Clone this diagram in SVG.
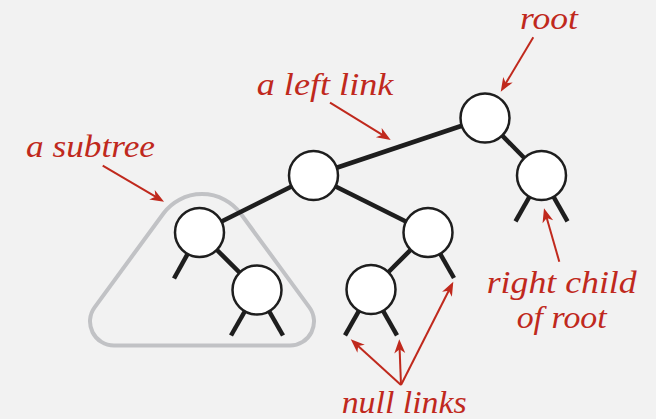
<svg xmlns="http://www.w3.org/2000/svg" width="656" height="419" viewBox="0 0 656 419">
<style>
.bg{fill:#f2f2f2}
.edge{stroke:#1e1e1e;stroke-width:4.5;fill:none}
.node{fill:#ffffff;stroke:#1e1e1e;stroke-width:2.5}
.sub{fill:none;stroke:#c1c2c5;stroke-width:4}
.arr{stroke:#c0291d;stroke-width:2;fill:none;marker-end:url(#ah)}
.lbl{font-family:"Liberation Serif","Times New Roman",serif;font-style:italic;font-size:32px;fill:#c0291d}
</style>
<defs>
<marker id="ah" markerUnits="userSpaceOnUse" markerWidth="20" markerHeight="16" viewBox="-16 -8 20 16" refX="-4" refY="0" orient="auto">
<path d="M0,0 L-14,-5.5 L-10,0 L-14,5.5 Z" fill="#c0291d"/>
</marker>
</defs>
<rect class="bg" x="0" y="0" width="656" height="419"/>
<g id="subtree-outline">
<path class="sub" d="M114,345.5 L290,345.5 A24,24 0 0 0 309.2,307.1 L240.4,213.2 A48,48 0 0 0 163.6,213.2 L94.8,307.1 A24,24 0 0 0 114,345.5 Z"/>
</g>
<g id="connectors">
<line class="edge" x1="485" y1="118" x2="313.5" y2="175.5"/>
<line class="edge" x1="485" y1="118" x2="541.5" y2="175.5"/>
<line class="edge" x1="313.5" y1="175.5" x2="199.5" y2="232.5"/>
<line class="edge" x1="313.5" y1="175.5" x2="428" y2="232.5"/>
<line class="edge" x1="199.5" y1="232.5" x2="257" y2="290"/>
<line class="edge" x1="428" y1="232.5" x2="371" y2="289.5"/>
<line class="edge" x1="541.5" y1="175.5" x2="515.5" y2="221.3"/>
<line class="edge" x1="541.5" y1="175.5" x2="567.5" y2="221.3"/>
<line class="edge" x1="199.5" y1="232.5" x2="174" y2="278.5"/>
<line class="edge" x1="428" y1="232.5" x2="454" y2="278"/>
<line class="edge" x1="257" y1="290" x2="231" y2="335.5"/>
<line class="edge" x1="257" y1="290" x2="283" y2="335.5"/>
<line class="edge" x1="371" y1="289.5" x2="345" y2="335.3"/>
<line class="edge" x1="371" y1="289.5" x2="397" y2="335.3"/>
</g>
<g id="node-root"><circle class="node" cx="485" cy="118" r="24.5"/></g>
<g id="node-a"><circle class="node" cx="313.5" cy="175.5" r="24.5"/></g>
<g id="node-b"><circle class="node" cx="541.5" cy="175.5" r="24.5"/></g>
<g id="node-c"><circle class="node" cx="199.5" cy="232.5" r="24.5"/></g>
<g id="node-d"><circle class="node" cx="428" cy="232.5" r="24.5"/></g>
<g id="node-e"><circle class="node" cx="257" cy="290" r="24.5"/></g>
<g id="node-f"><circle class="node" cx="371" cy="289.5" r="24.5"/></g>
<g id="annotations">
<line class="arr" x1="533.3" y1="37.3" x2="502.8" y2="88.3"/>
<line class="arr" x1="330" y1="102.7" x2="387.3" y2="137.9"/>
<line class="arr" x1="102.7" y1="165.7" x2="160.6" y2="199.7"/>
<line class="arr" x1="559.3" y1="261.7" x2="545.1" y2="212.2"/>
<line class="arr" x1="401" y1="385" x2="353.7" y2="342"/>
<line class="arr" x1="401" y1="385" x2="399.4" y2="343.3"/>
<line class="arr" x1="401" y1="385" x2="451.5" y2="285.3"/>
<text class="lbl" x="520" y="29.3" textLength="58" lengthAdjust="spacingAndGlyphs">root</text>
<text class="lbl" x="256.7" y="95" textLength="136.7" lengthAdjust="spacingAndGlyphs">a left link</text>
<text class="lbl" x="26" y="157.3" textLength="129" lengthAdjust="spacingAndGlyphs">a subtree</text>
<text class="lbl" x="486.7" y="293.3" textLength="150" lengthAdjust="spacingAndGlyphs">right child</text>
<text class="lbl" x="516.7" y="328.3" textLength="90" lengthAdjust="spacingAndGlyphs">of root</text>
<text class="lbl" x="341.7" y="412.7" textLength="125" lengthAdjust="spacingAndGlyphs">null links</text>
</g>
</svg>
